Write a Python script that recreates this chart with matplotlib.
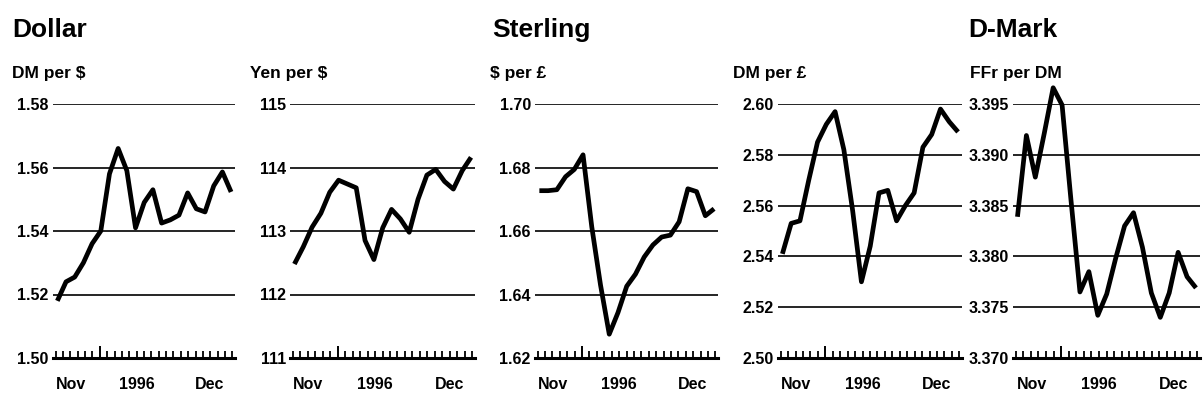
import matplotlib
matplotlib.use("Agg")
import matplotlib.pyplot as plt
import numpy as np

plt.rcParams['font.family'] = ['Liberation Sans', 'DejaVu Sans']

# ---- data (daily fixes, Nov-Dec 1996) ----
days = list(range(21))
month_labels = ["Nov", "1996", "Dec"]

dm_per_usd = [1.518, 1.524, 1.5255, 1.530, 1.536, 1.540, 1.558, 1.566, 1.559, 1.541,
              1.549, 1.553, 1.5425, 1.5435, 1.545, 1.552, 1.547, 1.546, 1.5542, 1.5586, 1.5523]
yen_per_usd = [112.48, 112.75, 113.06, 113.28, 113.61, 113.80, 113.74, 113.68, 112.85, 112.55,
               113.05, 113.34, 113.19, 112.98, 113.50, 113.88, 113.97, 113.78, 113.66, 113.95, 114.16]
usd_per_gbp = [1.6727, 1.6727, 1.6730, 1.6771, 1.6794, 1.6840, 1.6613, 1.6430, 1.6275, 1.6343,
               1.6426, 1.6464, 1.6518, 1.6556, 1.6581, 1.6587, 1.6629, 1.6733, 1.6724, 1.6648, 1.6670]
dm_per_gbp = [2.541, 2.553, 2.554, 2.570, 2.585, 2.592, 2.597, 2.582, 2.558, 2.530,
              2.544, 2.565, 2.566, 2.554, 2.560, 2.565, 2.583, 2.588, 2.598, 2.593, 2.589]
ffr_per_dm = [3.3839, 3.3919, 3.3878, 3.3921, 3.3966, 3.3949, 3.3855, 3.3765, 3.3785, 3.3742,
              3.3763, 3.3798, 3.3830, 3.3843, 3.3809, 3.3764, 3.3740, 3.3764, 3.3804, 3.3780, 3.3769]

ticks_usd_dm = [1.50, 1.52, 1.54, 1.56, 1.58]
ticks_yen = [111, 112, 113, 114, 115]
ticks_gbp_usd = [1.62, 1.64, 1.66, 1.68, 1.70]
ticks_gbp_dm = [2.50, 2.52, 2.54, 2.56, 2.58, 2.60]
ticks_ffr = [3.370, 3.375, 3.380, 3.385, 3.390, 3.395]

panels = [
    (dm_per_usd, ticks_usd_dm, "{:.2f}", "DM per $", 53, 235, 12),
    (yen_per_usd, ticks_yen, "{:.0f}", "Yen per $", 290, 475, 250),
    (usd_per_gbp, ticks_gbp_usd, "{:.2f}", "$ per £", 535, 718, 490),
    (dm_per_gbp, ticks_gbp_dm, "{:.2f}", "DM per £", 778, 962, 733),
    (ffr_per_dm, ticks_ffr, "{:.3f}", "FFr per DM", 1013, 1200, 970),
]
titles = [("Dollar", 12), ("Sterling", 492), ("D-Mark", 968)]

W, H = 1203, 405
fig = plt.figure(figsize=(W / 100, H / 100), dpi=100)
fig.patch.set_facecolor("white")

top_px, base_px = 104, 358
xlim = (-0.5, 20.45)
month_pos = [0.10, 0.46, 0.86]

for vals, yt, fmt, sub, x0, x1, subx in panels:
    ax = fig.add_axes([x0 / W, 1 - base_px / H, (x1 - x0) / W, (base_px - top_px) / H])
    ax.set_facecolor("none")
    for t in yt[1:]:
        ax.axhline(t, color="black", lw=1.2, zorder=1)
    ax.plot(days, vals, color="black", lw=3.4, solid_joinstyle="round",
            solid_capstyle="butt", zorder=3, clip_on=False)
    ax.set_ylim(yt[0], yt[-1])
    ax.set_xlim(*xlim)
    for s in ("top", "right", "left"):
        ax.spines[s].set_visible(False)
    ax.spines["bottom"].set_linewidth(2.2)
    ax.set_yticks(yt)
    ax.set_yticklabels([fmt.format(v) for v in yt], fontsize=11.5, fontweight="bold")
    ax.tick_params(axis="y", length=0, pad=3)
    tpos = np.linspace(xlim[0] + 0.3, xlim[1] - 0.3, 25)
    ax.set_xticks([tpos[6]])
    ax.set_xticks(np.delete(tpos, 6), minor=True)
    ax.tick_params(axis="x", which="major", direction="in", length=9, width=1.4, labelbottom=False)
    ax.tick_params(axis="x", which="minor", direction="in", length=5, width=1.3)
    for lab, p in zip(month_labels, month_pos):
        ax.text(p, -0.106, lab, transform=ax.transAxes, ha="center", va="center",
                fontsize=11.5, fontweight="bold")
    fig.text(subx / W, 1 - 78 / H, sub, fontsize=12.5, ha="left", va="baseline",
             fontweight="bold")

for t, x in titles:
    fig.text(x / W, 1 - 37 / H, t, fontsize=19, fontweight="bold", ha="left", va="baseline")

fig.savefig("out.png", dpi=100, facecolor="white")
